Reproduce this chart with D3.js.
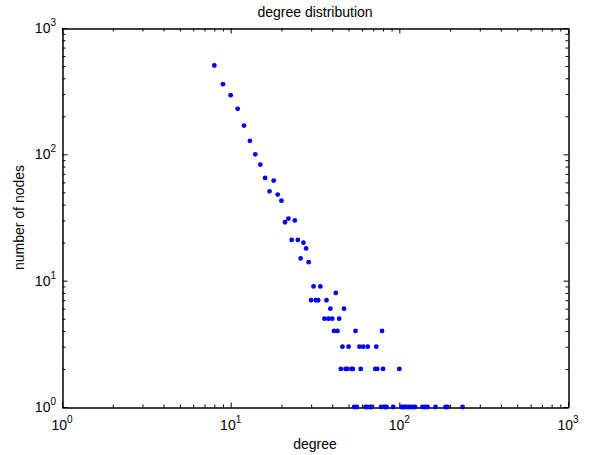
<!DOCTYPE html>
<html>
<head>
<meta charset="utf-8">
<script src="https://cdn.jsdelivr.net/npm/d3@7"></script>
<style>
  html, body { margin: 0; padding: 0; background: #fff; }
  svg { display: block; }
  text { font-family: "Liberation Sans", Arial, sans-serif; fill: #000; }
</style>
</head>
<body>
<svg id="chart" width="592" height="455"></svg>
<script>
// ---- data ----
const degrees = [8, 9, 10, 11, 12, 13, 14, 15, 16, 17, 18, 19, 20, 21, 22, 23, 24, 25, 26, 27, 28, 29,
  30, 31, 32, 33, 34, 36, 37, 38, 39, 40, 41, 42, 43, 44, 45, 46, 47, 48, 49, 50,
  52, 53, 54, 55, 56, 58, 59, 61, 63, 64, 65, 67, 68, 72, 73, 74, 78, 79, 80, 82, 84, 92,
  100, 103, 105, 107, 110, 113, 116, 120, 124, 137, 142, 147, 164, 188, 193, 237];
const counts = [505, 359, 294, 229, 169, 128, 100, 83, 65, 51, 62, 48, 43, 29, 31, 21, 30, 21, 15, 20, 18, 14,
  7, 9, 7, 7, 9, 5, 7, 5, 6, 5, 4, 8, 4, 5, 2, 3, 6, 2, 2, 3,
  2, 2, 1, 4, 1, 3, 2, 3, 1, 1, 3, 1, 1, 2, 3, 2, 1, 4, 2, 1, 1, 1,
  2, 1, 1, 1, 1, 1, 1, 1, 1, 1, 1, 1, 1, 1, 1, 1];
const xTickValues = [1, 10, 100, 1000];
const yTickValues = [1, 10, 100, 1000];
const tickExponents = ["0", "1", "2", "3"];
const titleText = "degree distribution";
const xLabelText = "degree";
const yLabelText = "number of nodes";

// ---- layout ----
const L = 62, R = 568, T = 28, B = 407;
const svg = d3.select("#chart");

const x = d3.scaleLog().domain([1, 1000]).range([L, R]);
const y = d3.scaleLog().domain([1, 1000]).range([B, T]);

const minor = [];
for (let d = 1; d < 1000; d *= 10) for (let m = 2; m <= 9; m++) minor.push(d * m);

function styleAxis(g) {
  g.selectAll("path.domain").attr("stroke", "#000").attr("stroke-width", 1);
  g.selectAll(".tick line").attr("stroke", "#000").attr("stroke-width", 1);
  g.selectAll("text").remove();
}

// minor ticks (inward, all four sides)
const mLen = 3, MLen = 5;
svg.append("g").attr("transform", `translate(0,${B + 0.5})`)
  .call(d3.axisBottom(x).tickValues(minor).tickSize(-mLen).tickSizeOuter(0).tickFormat("")).call(styleAxis);
svg.append("g").attr("transform", `translate(0,${T + 0.5})`)
  .call(d3.axisTop(x).tickValues(minor).tickSize(-mLen).tickSizeOuter(0).tickFormat("")).call(styleAxis);
svg.append("g").attr("transform", `translate(${L + 0.5},0)`)
  .call(d3.axisLeft(y).tickValues(minor).tickSize(-mLen).tickSizeOuter(0).tickFormat("")).call(styleAxis);
svg.append("g").attr("transform", `translate(${R + 0.5},0)`)
  .call(d3.axisRight(y).tickValues(minor).tickSize(-mLen).tickSizeOuter(0).tickFormat("")).call(styleAxis);
// major ticks
svg.append("g").attr("transform", `translate(0,${B + 0.5})`)
  .call(d3.axisBottom(x).tickValues(xTickValues).tickSize(-MLen).tickSizeOuter(0).tickFormat("")).call(styleAxis);
svg.append("g").attr("transform", `translate(0,${T + 0.5})`)
  .call(d3.axisTop(x).tickValues(xTickValues).tickSize(-MLen).tickSizeOuter(0).tickFormat("")).call(styleAxis);
svg.append("g").attr("transform", `translate(${L + 0.5},0)`)
  .call(d3.axisLeft(y).tickValues(yTickValues).tickSize(-MLen).tickSizeOuter(0).tickFormat("")).call(styleAxis);
svg.append("g").attr("transform", `translate(${R + 0.5},0)`)
  .call(d3.axisRight(y).tickValues(yTickValues).tickSize(-MLen).tickSizeOuter(0).tickFormat("")).call(styleAxis);

// tick labels with superscript exponents
const fs = 14, sfs = 10;
xTickValues.forEach((v, i) => {
  const t = svg.append("text")
    .attr("x", x(v)).attr("y", 430)
    .attr("text-anchor", "middle")
    .style("font-size", fs + "px");
  t.append("tspan").text("10");
  t.append("tspan").attr("dy", -7).style("font-size", sfs + "px").text(tickExponents[i]);
});
yTickValues.forEach((v, i) => {
  const t = svg.append("text")
    .attr("x", 56).attr("y", y(v) + 5)
    .attr("text-anchor", "end")
    .style("font-size", fs + "px");
  t.append("tspan").text("10");
  t.append("tspan").attr("dy", -7).style("font-size", sfs + "px").text(tickExponents[i]);
});

// points
const data = degrees.map((d, i) => ({ d, c: counts[i] }));
svg.append("g").selectAll("circle").data(data).join("circle")
  .attr("cx", p => x(p.d))
  .attr("cy", p => y(p.c))
  .attr("r", 2.4)
  .attr("fill", "#0000ff");

// title and labels
svg.append("text").attr("x", (L + R) / 2).attr("y", 17)
  .attr("text-anchor", "middle").style("font-size", "14px").text(titleText);
svg.append("text").attr("x", (L + R) / 2).attr("y", 449)
  .attr("text-anchor", "middle").style("font-size", "14px").text(xLabelText);
svg.append("text")
  .attr("transform", `translate(24,${(T + B) / 2}) rotate(-90)`)
  .attr("text-anchor", "middle").style("font-size", "14px").text(yLabelText);
</script>
</body>
</html>
